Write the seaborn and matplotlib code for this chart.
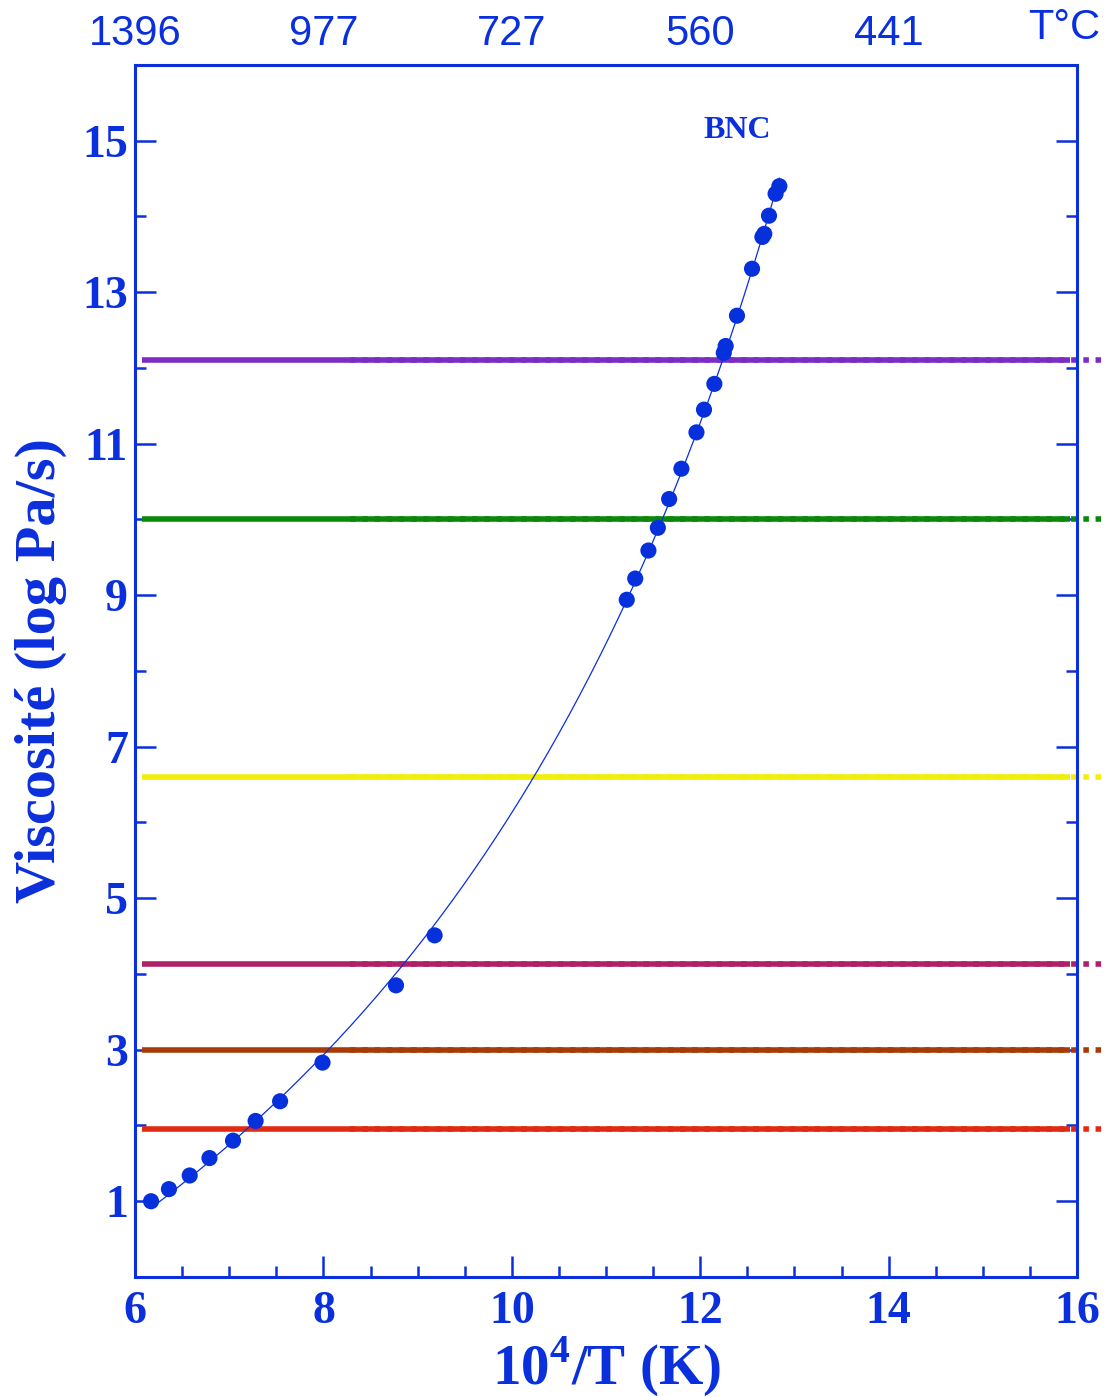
import numpy as np
import pandas as pd
import matplotlib
matplotlib.use('Agg')
import matplotlib.pyplot as plt
import seaborn as sns

# measured points, x = 10^4/T (K), y = log viscosity
inv_t = [6.17, 6.36, 6.58, 6.79, 7.04, 7.28, 7.54, 7.99, 8.77, 9.18,
         11.22, 11.31, 11.45, 11.55, 11.67, 11.80, 11.96, 12.04, 12.15,
         12.25, 12.27, 12.39, 12.55, 12.66, 12.68, 12.73, 12.80, 12.84]
log_visc = [1.00, 1.16, 1.34, 1.57, 1.80, 2.06, 2.32, 2.83, 3.85, 4.51,
            8.94, 9.22, 9.59, 9.89, 10.27, 10.67, 11.15, 11.45, 11.79,
            12.20, 12.29, 12.69, 13.31, 13.73, 13.77, 14.01, 14.30, 14.40]

# reference viscosity levels
level_values = [12.1, 10.0, 6.6, 4.13, 3.0, 1.95]
level_colors = ['#7b2cc4', '#0a880a', '#f2ee0c', '#b02068', '#a83a06', '#e02a12']

top_ticks = [6, 8, 10, 12, 14]
top_labels = ['1396', '977', '727', '560', '441']
bottom_ticks = [6, 8, 10, 12, 14, 16]
left_ticks = [1, 3, 5, 7, 9, 11, 13, 15]

blue = '#0a2fdc'

df = pd.DataFrame({'x': inv_t, 'y': log_visc})

# VFT fit: log eta = A + B / (T - T0), T in K
T = 1e4 / df['x'].values
best = None
for T0 in np.linspace(0, 700, 1401):
    M = np.column_stack([np.ones_like(T), 1.0 / (T - T0)])
    coef, res, *_ = np.linalg.lstsq(M, df['y'].values, rcond=None)
    err = np.sum((M @ coef - df['y'].values) ** 2)
    if best is None or err < best[0]:
        best = (err, T0, coef)
_, T0, (A, B) = best
xs = np.linspace(df['x'].min(), df['x'].max(), 300)
fit = pd.DataFrame({'x': xs, 'y': A + B / (1e4 / xs - T0)})

sns.set_style('ticks')
plt.rcParams['font.family'] = ['Liberation Serif', 'DejaVu Serif']
plt.rcParams['mathtext.fontset'] = 'custom'
plt.rcParams['mathtext.rm'] = 'Liberation Serif'
plt.rcParams['mathtext.bf'] = 'Liberation Serif:bold'

fig = plt.figure(figsize=(11.06, 13.97), dpi=100)
ax = fig.add_axes([0.1221, 0.0859, 0.8517, 0.8676])

for val, col in zip(level_values, level_colors):
    ax.plot([6.07, 15.93], [val, val], color=col, lw=4, solid_capstyle='butt', zorder=2)
    ax.plot([8.28, 16.3], [val, val], color=col, lw=4, ls=(0, (1, 1.2)),
            dash_capstyle='butt', clip_on=False, zorder=2)

sns.lineplot(data=fit, x='x', y='y', ax=ax, color=blue, lw=0.9, sort=False, zorder=3)
sns.scatterplot(data=df, x='x', y='y', ax=ax, color='#0530dc', s=135,
                edgecolor='none', zorder=4)

ax.set_xlim(6, 16)
ax.set_ylim(0, 16)
ax.set_xticks(bottom_ticks)
ax.set_xticks(np.arange(6, 16.01, 0.5), minor=True)
ax.set_yticks(left_ticks)
ax.set_yticks(np.arange(0, 16.01, 1), minor=True)
ax.set_xticklabels([str(t) for t in bottom_ticks])
ax.set_yticklabels([str(t) for t in left_ticks])

for sp in ax.spines.values():
    sp.set_color(blue)
    sp.set_linewidth(2.2)

ax.tick_params(which='both', direction='in', colors=blue, width=1.8,
               top=True, right=True, labelsize=33)
ax.tick_params(which='major', length=15)
ax.tick_params(which='minor', length=8)
ax.tick_params(axis='x', pad=10)
ax.tick_params(axis='y', pad=5)
for lab in ax.get_xticklabels() + ax.get_yticklabels():
    lab.set_fontweight('bold')
    lab.set_color(blue)

ax.set_xlabel('10$^{\\mathbf{4}}$/T (K)', fontsize=41, fontweight='bold', color=blue)
ax.set_ylabel('Viscosité (log Pa/s)', fontsize=42, fontweight='bold', color=blue)
ax.xaxis.set_label_coords(0.5, -0.047)
ax.yaxis.set_label_coords(-0.072, 0.5)

# top temperature axis in degrees C
top = ax.twiny()
top.set_xlim(ax.get_xlim())
top.set_xticks(top_ticks)
top.set_xticklabels(top_labels, family=['Liberation Sans', 'DejaVu Sans'])
top.tick_params(axis='x', length=0, pad=8, labelsize=30, colors=blue)
for sp in top.spines.values():
    sp.set_visible(False)
top.text(0.986, 1.014, 'T°C', transform=ax.transAxes, fontsize=30, color=blue,
         family=['Liberation Sans', 'DejaVu Sans'], ha='center', va='bottom')

ax.text(12.39, 15.14, 'BNC', fontsize=23, fontweight='bold', color=blue,
        ha='center', va='center')

fig.savefig('out.png', dpi=100)
